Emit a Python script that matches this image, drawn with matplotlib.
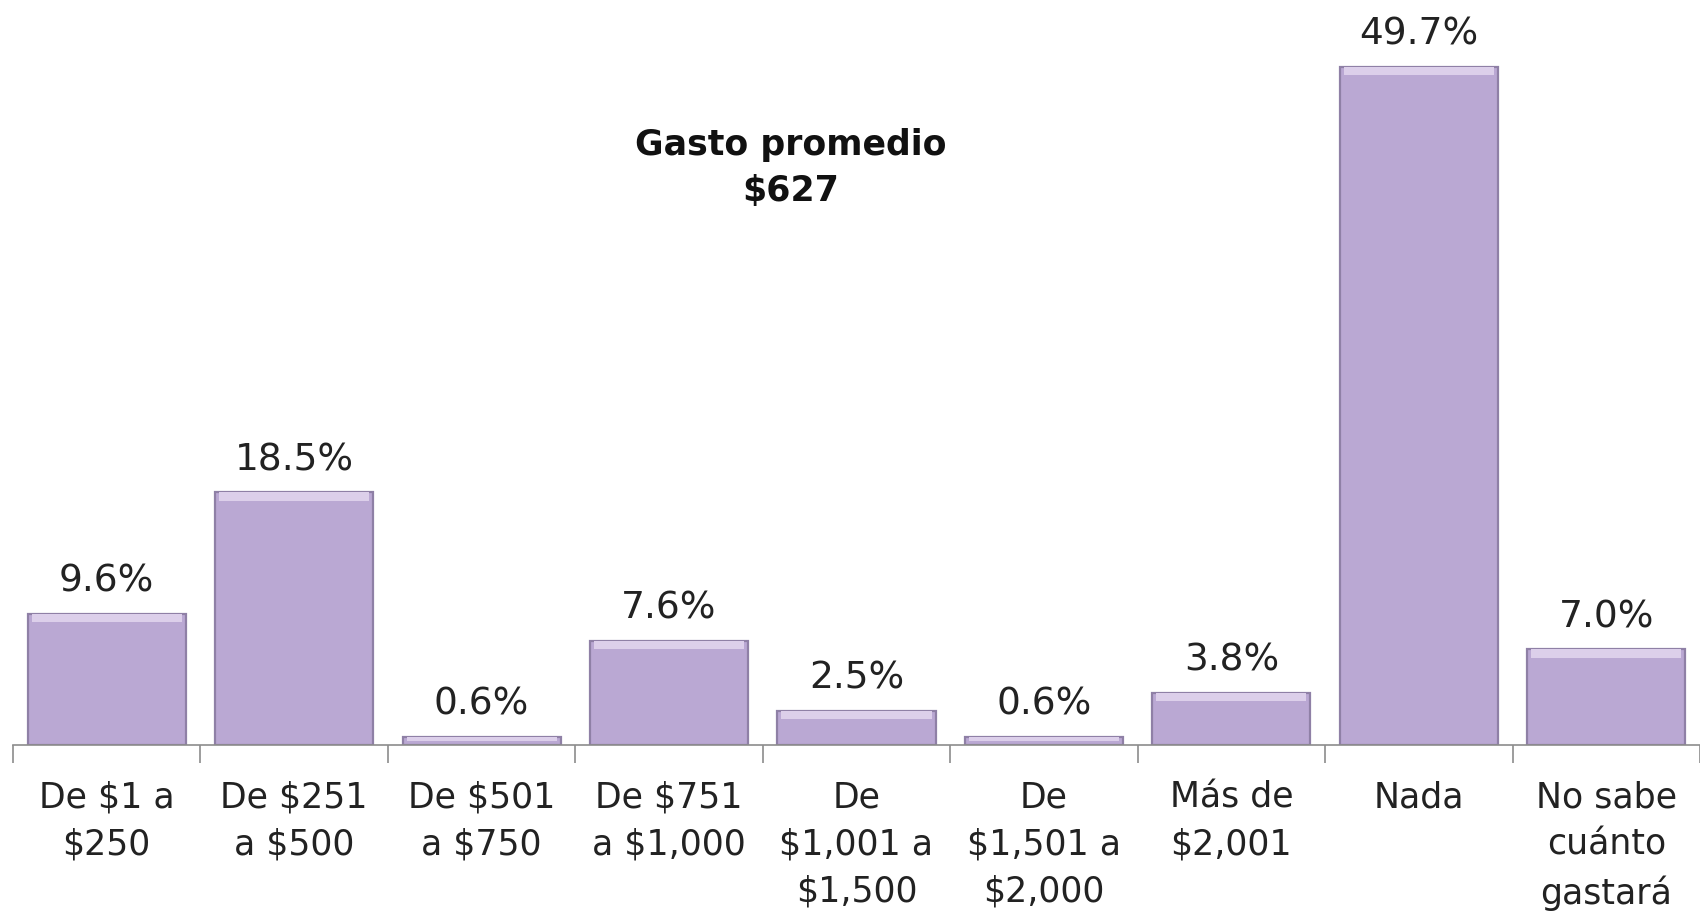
import matplotlib
matplotlib.use("Agg")
import matplotlib.pyplot as plt

plt.rcParams["text.parse_math"] = False
plt.rcParams["font.family"] = ["DejaVu Sans"]

# survey data
categories = [
    "De $1 a\n$250",
    "De $251\na $500",
    "De $501\na $750",
    "De $751\na $1,000",
    "De\n$1,001 a\n$1,500",
    "De\n$1,501 a\n$2,000",
    "Más de\n$2,001",
    "Nada",
    "No sabe\ncuánto\ngastará",
]
values = [9.6, 18.5, 0.6, 7.6, 2.5, 0.6, 3.8, 49.7, 7.0]
value_labels = ["9.6%", "18.5%", "0.6%", "7.6%", "2.5%", "0.6%", "3.8%", "49.7%", "7.0%"]
note = "Gasto promedio\n$627"

W, H = 1700, 912
fig = plt.figure(figsize=(W / 100, H / 100), dpi=100)
ax = fig.add_axes([13 / W, 1 - 746 / H, 1 - 13 / W, 746 / H])

x = list(range(len(values)))
bar_w = 0.843
face = "#baa8d3"
ax.bar(x, values, width=bar_w, color=face, edgecolor="#8f80a6", linewidth=1.6, zorder=2)

# soft bevel on the top of each bar
bevel = 0.6
tops = [min(bevel, v / 2) for v in values]
ax.bar(x, tops, bottom=[v - t for v, t in zip(values, tops)], width=bar_w * 0.95,
       color="#dccfea", linewidth=0, zorder=3)

for xi, v, lab in zip(x, values, value_labels):
    ax.annotate(lab, (xi, v), xytext=(0, 11), textcoords="offset points",
                ha="center", va="bottom", fontsize=27, color="#222222")

ax.set_xlim(-0.5, len(values) - 0.5)
ax.set_ylim(0, 746 / 13.65)

for s in ["top", "right", "left"]:
    ax.spines[s].set_visible(False)
ax.spines["bottom"].set_color("#8c8c8c")
ax.spines["bottom"].set_linewidth(1.2)
ax.set_yticks([])

ax.set_xticks(x)
ax.set_xticklabels(categories, fontsize=25, color="#222222", linespacing=1.48)
ax.tick_params(axis="x", which="major", length=0, pad=25)
ax.set_xticks([i - 0.5 for i in range(len(values) + 1)], minor=True)
ax.tick_params(axis="x", which="minor", length=13, color="#8c8c8c", width=1.2)

fig.text(791 / W, 1 - 168 / H, note, ha="center", va="center", fontsize=25,
         fontweight="bold", color="#111111", linespacing=1.45)

fig.savefig("out.png", dpi=100)
